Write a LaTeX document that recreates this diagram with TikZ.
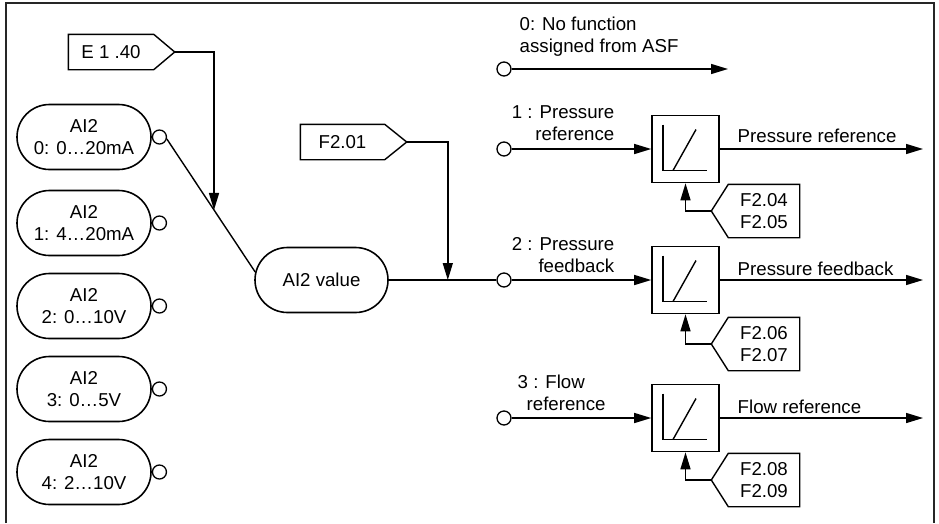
\documentclass[tikz,border=0pt]{standalone}
\usepackage{fontspec}
\setmainfont{Liberation Sans}
\usetikzlibrary{shapes.misc,arrows.meta,calc}
\begin{document}
\begin{tikzpicture}[x=1pt,y=-1pt,line width=1.4pt,
  font=\fontsize{18.67}{22}\selectfont,
  stad/.style={rounded rectangle,draw,minimum width=134pt,minimum height=65pt,inner sep=0pt,align=center,line width=1.6pt},
  port/.style={circle,draw,minimum size=14pt,inner sep=0pt,line width=1.3pt},
  tagbox/.style={inner sep=0pt,align=center},
  fbox/.style={rectangle,draw,minimum size=67pt,inner sep=0pt,line width=1.6pt},
  lbl/.style={inner sep=0pt},
  arr/.style={-{Triangle[length=17pt,width=10pt]}},
  ramp/.pic={\draw[line width=1.4pt] (-22.5,-24.5) -- (-22.5,21.5) -- (21.5,21.5);
             \draw[line width=1.4pt] (-12.5,21.5) -- (10.5,-19.5);}
]
\useasboundingbox (0,0) rectangle (939,523);
% frame
\draw[line width=1.5pt,black!85] (6,523) -- (6,3) -- (934,3) -- (934,523);

% input stadiums
\node[stad] (ai0) at (84,137) {AI2\\0: 0…20mA};
\node[stad] (ai1) at (84,223) {AI2\\1: 4…20mA};
\node[stad] (ai2) at (84,306) {AI2\\2: 0…10V};
\node[stad] (ai3) at (84,389) {AI2\\3: 0…5V};
\node[stad] (ai4) at (84,472) {AI2\\4: 2…10V};
\foreach \i in {0,...,4} { \node[port,anchor=west] (c\i) at (ai\i.east) {}; }

% AI2 value
\node[stad,minimum width=133pt] (aiv) at (321.5,280) {AI2 value};

% E 1.40 tag
\node[tagbox,minimum width=84pt,minimum height=34pt] (e140) at (111,52) {E 1 .40};
\draw (e140.north west) -- (e140.north east) -- ($(e140.east)+(21,0)$) coordinate (e140tip)
      -- (e140.south east) -- (e140.south west) -- cycle;

% F2.01 tag
\node[tagbox,minimum width=83pt,minimum height=34pt] (f201) at (342.5,142) {F2.01};
\draw (f201.north west) -- (f201.north east) -- ($(f201.east)+(22,0)$) coordinate (f201tip)
      -- (f201.south east) -- (f201.south west) -- cycle;

% diagonal connection AI2 0 -> AI2 value
\coordinate (aivin) at ($(aiv.west)+(1,-8)$);
\draw (c0.-15) -- (aivin);
\coordinate (d0) at (intersection of c0.-15--aivin and 214,0--214,400);
\draw[arr] (e140tip) -| (d0);

% output ports
\node[port] (o0) at (504,69) {};
\node[port] (o1) at (504,149) {};
\node[port] (o2) at (504,280) {};
\node[port] (o3) at (504,418) {};

\draw (aiv.east) -- (o2.west);
\path (aiv.east) ++(59,0) coordinate (j2);
\draw[arr] (f201tip) -| (j2);

% row labels
\node[lbl,anchor=west,align=left] (l0) at (519,37) {0: No function\\assigned from ASF};
\node[lbl,anchor=east,align=right] (l1) at (615,123) {1 : Pressure\\reference};
\node[lbl,anchor=east,align=right] (l2) at (615,255) {2 : Pressure\\feedback};
\node[lbl,anchor=west,align=left] (l3) at (517,393) {3 : Flow\\\hspace*{9pt}reference};

% row 0
\coordinate (end0) at (728,69);
\draw[arr] (o0) -- (end0);

% function boxes
\node[fbox] (b1) at (685.5,149) {};
\node[fbox] (b2) at (685.5,280) {};
\node[fbox] (b3) at (685.5,418) {};
\pic at (b1) {ramp};
\pic at (b2) {ramp};
\pic at (b3) {ramp};

\draw[arr] (o1) -- (b1);
\draw[arr] (o2) -- (b2);
\draw[arr] (o3) -- (b3);

\coordinate (out1) at (923,149);
\coordinate (out2) at (923,280);
\coordinate (out3) at (923,418);
\draw[arr] (b1) -- (out1);
\draw[arr] (b2) -- (out2);
\draw[arr] (b3) -- (out3);

\node[lbl,anchor=base west] (ol1) at (737,142) {Pressure reference};
\node[lbl,anchor=base west] (ol2) at (737,275) {Pressure feedback};
\node[lbl,anchor=base west] (ol3) at (737,413) {Flow reference};

% parameter tags (left pointing)
\foreach \n/\y/\a/\b in {t1/211/F2.04/F2.05, t2/344/F2.06/F2.07, t3/480/F2.08/F2.09} {
  \node[tagbox,minimum width=70pt,minimum height=52pt] (\n) at (764,\y) {\a\\\b};
  \draw (\n.north east) -- (\n.north west) -- ($(\n.west)+(-17,0)$) coordinate (\n tip)
        -- (\n.south west) -- (\n.south east) -- cycle;
}
\draw[arr] (t1tip) -| (b1.south);
\draw[arr] (t2tip) -| (b2.south);
\draw[arr] (t3tip) -| (b3.south);
\end{tikzpicture}
\end{document}
